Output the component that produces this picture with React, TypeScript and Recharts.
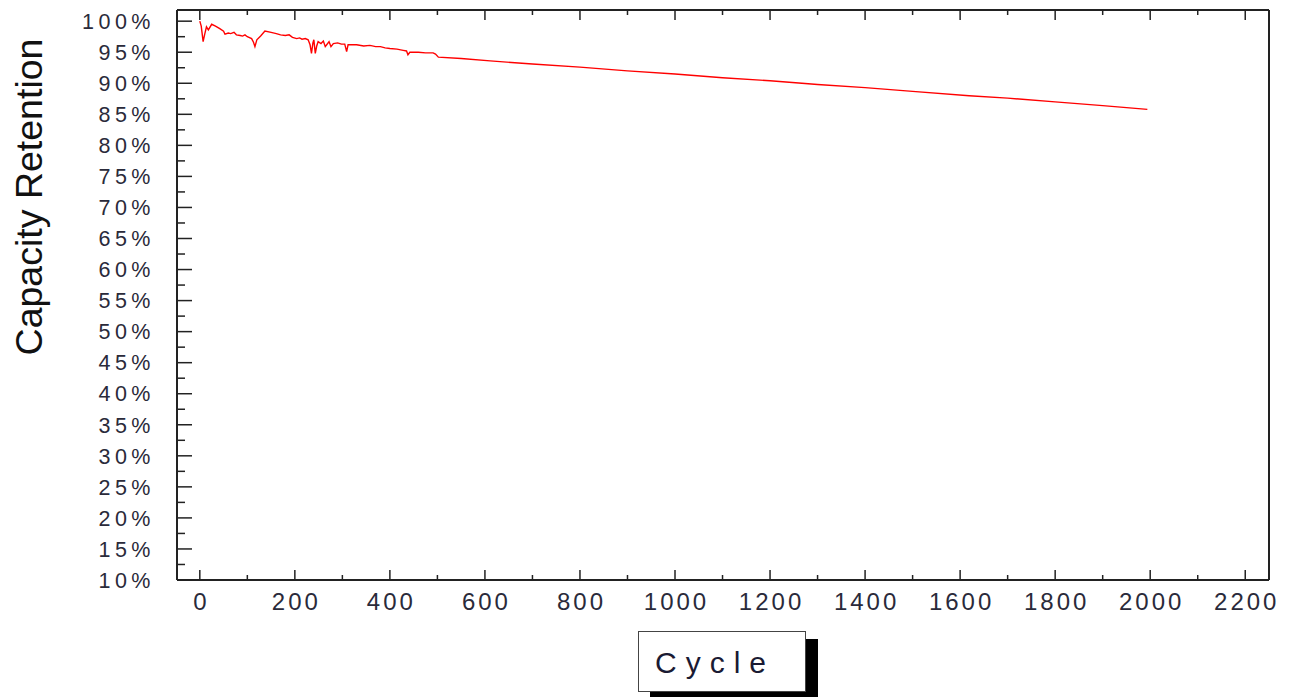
import { LineChart, Line, XAxis, YAxis } from "recharts";

// cycle numbers and capacity retention (%)
const cycles = [
  0, 3, 7, 10, 14, 18, 25, 33, 42, 50, 53, 60, 65, 72, 77, 85, 90, 95, 100, 109, 113, 116,
  120, 128, 137, 150, 161, 170, 180, 188, 195, 204, 210, 215, 222, 228, 232, 235, 238,
  240, 243, 246, 249, 255, 260, 264, 267, 272, 276, 281, 290, 298, 305, 309, 312, 330,
  345, 358, 370, 380, 390, 400, 415, 428, 435, 438, 442, 460, 475, 491, 496, 502, 550,
  611, 700, 800, 900, 1000, 1100, 1200, 1267, 1300, 1400, 1500, 1619, 1700, 1800, 1900,
  1994,
];
const retention = [
  100.0, 99.2, 96.7, 97.8, 99.1, 98.6, 99.5, 99.2, 98.8, 98.4, 97.9, 98.1, 98.0, 98.2,
  97.8, 97.7, 97.6, 97.8, 97.5, 97.2, 96.6, 95.9, 97.0, 97.6, 98.4, 98.2, 98.0, 97.8,
  97.7, 97.8, 97.4, 97.2, 97.3, 97.1, 97.2, 97.0, 96.2, 94.8, 96.5, 97.0, 94.8, 96.0,
  96.7, 96.4, 96.8, 95.9, 96.2, 96.7, 95.9, 96.4, 96.5, 96.3, 96.3, 95.1, 96.2, 96.2,
  96.0, 96.1, 95.9, 95.9, 95.7, 95.6, 95.5, 95.3, 95.2, 94.6, 95.0, 95.0, 94.9, 94.9,
  94.7, 94.2, 94.0, 93.6, 93.1, 92.6, 92.0, 91.5, 90.9, 90.4, 90.0, 89.8, 89.3, 88.7,
  88.0, 87.6, 87.0, 86.4, 85.8,
];

const xTicks = [
  0, 100, 200, 300, 400, 500, 600, 700, 800, 900, 1000, 1100, 1200, 1300, 1400, 1500,
  1600, 1700, 1800, 1900, 2000, 2100, 2200,
];
const yTicks = [
  10, 12.5, 15, 17.5, 20, 22.5, 25, 27.5, 30, 32.5, 35, 37.5, 40, 42.5, 45, 47.5, 50,
  52.5, 55, 57.5, 60, 62.5, 65, 67.5, 70, 72.5, 75, 77.5, 80, 82.5, 85, 87.5, 90, 92.5,
  95, 97.5, 100,
];

const data = cycles.map((c, i) => ({ cycle: c, value: retention[i] }));

const AXIS = "#222";
const FONT = "'Liberation Sans', Arial, sans-serif";

function BottomTick(props: any) {
  const { x, y, payload } = props;
  const major = payload.value % 200 === 0;
  return (
    <g>
      <line x1={x} x2={x} y1={y} y2={y - (major ? 10 : 5)} stroke={AXIS} strokeWidth={1.5} />
      {major && (
        <text x={x + 1.5} y={y + 30} textAnchor="middle" fontSize={24} letterSpacing={3}
          fontFamily={FONT} fill="#2a2a3a">
          {payload.value}
        </text>
      )}
    </g>
  );
}

function TopTick(props: any) {
  const { x, y, payload } = props;
  const major = payload.value % 200 === 0;
  return <line x1={x} x2={x} y1={y} y2={y + (major ? 10 : 5)} stroke={AXIS} strokeWidth={1.5} />;
}

function LeftTick(props: any) {
  const { x, y, payload } = props;
  const major = payload.value % 5 === 0;
  return (
    <g>
      <line x1={x} x2={x + (major ? 15 : 8)} y1={y} y2={y} stroke={AXIS} strokeWidth={1.5} />
      {major && (
        <text x={x - 22} y={y} dy="0.36em" textAnchor="end" fontSize={21.5} letterSpacing={4.5}
          fontFamily={FONT} fill="#2a2a3a">
          {`${payload.value}%`}
        </text>
      )}
    </g>
  );
}

export default function App() {
  return (
    <div style={{ position: "absolute", left: 0, top: 0, width: 1293, height: 697, background: "#fff" }}>
      <LineChart width={1293} height={697} data={data}
        margin={{ top: 9, right: 23, bottom: 116, left: 176 }}>
        <XAxis dataKey="cycle" type="number" domain={[-48, 2250]} allowDataOverflow
          ticks={xTicks} interval={0} height={1} tickSize={0} tickMargin={0}
          axisLine={{ stroke: AXIS, strokeWidth: 2 }} tickLine={false} tick={<BottomTick />} />
        <XAxis xAxisId="top" orientation="top" dataKey="cycle" type="number" domain={[-48, 2250]}
          allowDataOverflow ticks={xTicks} interval={0} height={1} tickSize={0} tickMargin={0}
          axisLine={{ stroke: AXIS, strokeWidth: 2 }} tickLine={false} tick={<TopTick />} />
        <YAxis type="number" domain={[10, 101.8]} allowDataOverflow ticks={yTicks} interval={0}
          width={1} tickSize={0} tickMargin={0} axisLine={{ stroke: AXIS, strokeWidth: 2 }}
          tickLine={false} tick={<LeftTick />} />
        <YAxis yAxisId="right" orientation="right" type="number" domain={[10, 101.8]}
          allowDataOverflow width={1} tick={false} tickLine={false}
          axisLine={{ stroke: AXIS, strokeWidth: 2 }} />
        <Line type="linear" dataKey="value" stroke="#ff0000" strokeWidth={1.4} dot={false}
          isAnimationActive={false} />
        <text x={29} y={197} transform="rotate(-90 29 197)" textAnchor="middle" dy="0.35em"
          fontSize={37.5} fontFamily={FONT} fill="#111">
          Capacity Retention
        </text>
      </LineChart>
      <div style={{
        position: "absolute", left: 638, top: 631, width: 166, height: 59,
        border: "1px solid #444", background: "#fff", boxShadow: "12px 8px 0 #000",
        fontFamily: FONT, fontSize: 30, letterSpacing: 9, color: "#1a1a33",
        boxSizing: "content-box",
      }}>
        <span style={{ position: "absolute", left: 16, top: 14, lineHeight: "34px" }}>Cycle</span>
      </div>
    </div>
  );
}
